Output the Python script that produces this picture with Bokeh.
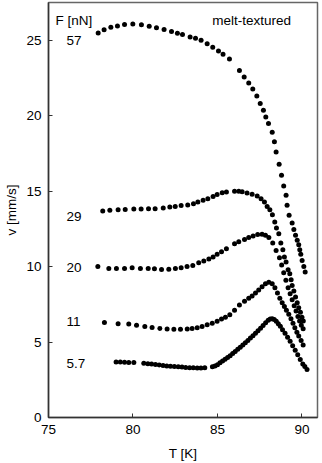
from bokeh.plotting import figure
from bokeh.models import FixedTicker, Range1d, ColumnDataSource
from bokeh.core.properties import value
from bokeh.embed import file_html
from bokeh.resources import INLINE

# ---- data (T in K, v in mm/s) ----
t_57 = [77.94, 78.29, 78.69, 79.08, 79.50, 79.99, 80.50, 80.96, 81.39, 81.84, 82.28, 82.63,
        82.93, 83.38, 83.70, 84.03, 84.39, 84.72, 85.06, 85.33, 85.71, 86.30, 86.58, 86.85,
        87.09, 87.33, 87.53, 87.72, 87.86, 88.02, 88.24, 88.37, 88.47, 88.65, 88.79, 88.92,
        89.06, 89.12, 89.24, 89.42, 89.52, 89.62, 89.72, 89.81, 89.87, 89.93, 90.01, 90.11, 90.19]
v_57 = [25.48, 25.70, 25.86, 25.95, 26.04, 26.08, 26.02, 25.93, 25.82, 25.71, 25.58, 25.46,
        25.38, 25.22, 25.13, 25.00, 24.76, 24.54, 24.29, 24.07, 23.76, 22.99, 22.57, 22.17,
        21.77, 21.31, 20.80, 20.36, 19.91, 19.48, 18.90, 18.28, 17.59, 16.78, 16.05, 15.34,
        14.72, 14.06, 13.40, 12.89, 12.45, 12.07, 11.74, 11.45, 11.12, 10.81, 10.41, 10.01, 9.64]

t_29 = [78.21, 78.63, 79.12, 79.54, 80.05, 80.48, 80.92, 81.31, 81.79, 82.18, 82.50, 82.85,
        83.24, 83.58, 83.84, 84.15, 84.43, 84.74, 84.98, 85.28, 85.53, 86.01, 86.26, 86.46,
        86.75, 87.05, 87.35, 87.58, 87.78, 87.94, 88.10, 88.25, 88.39, 88.49, 88.63, 88.75,
        88.87, 88.96, 89.06, 89.18, 89.28, 89.36, 89.42, 89.52, 89.62, 89.72, 89.81, 89.91,
        90.00, 90.08]
v_29 = [13.68, 13.73, 13.77, 13.79, 13.81, 13.81, 13.84, 13.84, 13.88, 13.95, 13.99, 14.04,
        14.08, 14.17, 14.28, 14.39, 14.50, 14.64, 14.77, 14.90, 14.94, 14.99, 14.99, 14.96,
        14.88, 14.79, 14.68, 14.50, 14.28, 13.99, 13.77, 13.44, 12.95, 12.55, 12.18, 11.56,
        11.12, 10.63, 10.30, 9.79, 9.53, 9.13, 8.75, 8.38, 7.98, 7.61, 7.27, 6.98,
        6.65, 6.39]

t_20 = [77.92, 78.57, 79.02, 79.50, 79.95, 80.44, 80.90, 81.27, 81.69, 82.12, 82.51, 82.85,
        83.20, 83.54, 83.89, 84.19, 84.49, 84.74, 84.98, 85.24, 85.53, 86.01, 86.26, 86.60,
        86.85, 87.11, 87.38, 87.64, 87.84, 88.04, 88.27, 88.47, 88.67, 88.80, 88.92, 89.05,
        89.18, 89.30, 89.42, 89.54, 89.65, 89.76, 89.86, 89.96, 90.07]
v_20 = [10.01, 9.88, 9.88, 9.88, 9.92, 9.88, 9.88, 9.86, 9.81, 9.83, 9.88, 9.92,
        10.01, 10.08, 10.26, 10.37, 10.50, 10.63, 10.81, 10.99, 11.19, 11.52, 11.65, 11.80,
        11.92, 12.02, 12.12, 12.14, 12.07, 11.92, 11.56, 11.07, 10.59, 10.10, 9.60, 9.10,
        8.60, 8.20, 7.80, 7.40, 7.05, 6.70, 6.40, 6.12, 5.88]

t_11 = [78.31, 79.12, 79.75, 80.21, 80.70, 81.13, 81.59, 82.02, 82.42, 82.81, 83.21, 83.50,
        83.80, 84.09, 84.39, 84.69, 84.98, 85.24, 85.47, 85.73, 86.01, 86.30, 86.60, 86.85,
        87.05, 87.25, 87.44, 87.64, 87.84, 88.04, 88.24, 88.40, 88.55, 88.69, 88.83, 88.96,
        89.08, 89.22, 89.35, 89.47, 89.58, 89.70, 89.81, 89.95, 90.07]
v_11 = [6.30, 6.21, 6.19, 6.12, 6.03, 5.97, 5.90, 5.86, 5.84, 5.84, 5.86, 5.90,
        5.95, 6.03, 6.15, 6.25, 6.37, 6.52, 6.65, 6.81, 7.10, 7.45, 7.71, 7.90,
        8.05, 8.25, 8.45, 8.66, 8.87, 8.97, 8.87, 8.60, 8.25, 7.90, 7.60, 7.35,
        7.10, 6.85, 6.55, 6.25, 5.95, 5.65, 5.40, 5.10, 4.80]

t_5_7 = [79.00, 79.25, 79.50, 79.75, 80.05, 80.64, 80.88, 81.10, 81.33, 81.55, 81.78, 82.00,
         82.22, 82.45, 82.68, 82.90, 83.12, 83.35, 83.57, 83.80, 84.02, 84.25, 84.70, 84.85,
         85.00, 85.15, 85.30, 85.45, 85.60, 85.75, 85.90, 86.05, 86.20, 86.35, 86.50, 86.65,
         86.80, 86.95, 87.10, 87.25, 87.40, 87.55, 87.70, 87.85, 88.00, 88.12, 88.24, 88.36,
         88.48, 88.60, 88.72, 88.85, 89.00, 89.15, 89.30, 89.45, 89.60, 89.75, 89.90, 90.05,
         90.17, 90.30]
v_5_7 = [3.68, 3.67, 3.66, 3.65, 3.64, 3.60, 3.57, 3.54, 3.51, 3.48, 3.45, 3.42,
         3.40, 3.38, 3.36, 3.34, 3.32, 3.30, 3.29, 3.28, 3.28, 3.29, 3.36, 3.42,
         3.50, 3.62, 3.75, 3.86, 3.98, 4.10, 4.24, 4.38, 4.52, 4.66, 4.80, 4.95,
         5.10, 5.26, 5.42, 5.58, 5.75, 5.92, 6.10, 6.28, 6.44, 6.52, 6.55, 6.50,
         6.38, 6.22, 6.04, 5.82, 5.58, 5.32, 5.05, 4.75, 4.45, 4.15, 3.85, 3.55,
         3.38, 3.18]

series_labels = ["57", "29", "20", "11", "5.7"]
label_t = [76.07, 76.07, 76.07, 76.07, 76.07]
label_v = [25.0, 13.33, 9.95, 6.37, 3.58]

x_ticks = [75, 80, 85, 90]
y_ticks = [0, 5, 10, 15, 20, 25]

FONT = "Liberation Sans"
FS = "13.5px"

p = figure(width=322, height=463,
           x_range=Range1d(75, 90.92), y_range=Range1d(0, 27.5),
           output_backend="svg", toolbar_location=None,
           min_border_left=48, min_border_right=5, min_border_top=2, min_border_bottom=46)

p.grid.visible = False
p.outline_line_color = "#666666"
p.outline_line_width = 1.5
p.background_fill_color = "white"
p.border_fill_color = "white"

for ax in (p.xaxis[0], p.yaxis[0]):
    ax.axis_line_color = "#333333"
    ax.axis_line_width = 1.5
    ax.major_tick_in = 4
    ax.major_tick_out = 0
    ax.major_tick_line_color = "#333333"
    ax.minor_tick_line_color = None
    ax.major_label_text_font = FONT
    ax.major_label_text_font_size = FS
    ax.major_label_text_color = "black"
    ax.axis_label_text_font = FONT
    ax.axis_label_text_font_size = FS
    ax.axis_label_text_font_style = "normal"
    ax.axis_label_text_color = "black"

p.xaxis.ticker = FixedTicker(ticks=x_ticks)
p.yaxis.ticker = FixedTicker(ticks=y_ticks)
p.xaxis.axis_label = "T [K]"
p.yaxis.axis_label = "v [mm/s]"
p.xaxis.major_label_standoff = 7
p.yaxis.major_label_standoff = 7
p.xaxis.axis_label_standoff = 9
p.yaxis.axis_label_standoff = 4

for t, v in [(t_57, v_57), (t_29, v_29), (t_20, v_20), (t_11, v_11), (t_5_7, v_5_7)]:
    p.scatter(x=t, y=v, size=5, marker="circle", fill_color="black", line_color=None)

src = ColumnDataSource(dict(x=label_t, y=label_v, text=series_labels))
p.text(x="x", y="y", text="text", source=src, text_font=value(FONT),
       text_font_size=FS, text_align="left", text_baseline="middle", text_color="black")

p.text(x=[75.41], y=[26.33], text=["F [nN]"], text_font=value(FONT),
       text_font_size=FS, text_align="left", text_baseline="middle", text_color="black")
p.text(x=[84.69], y=[26.28], text=["melt-textured"], text_font=value(FONT),
       text_font_size=FS, text_align="left", text_baseline="middle", text_color="black")

open("out.html", "w").write(file_html(p, INLINE))
